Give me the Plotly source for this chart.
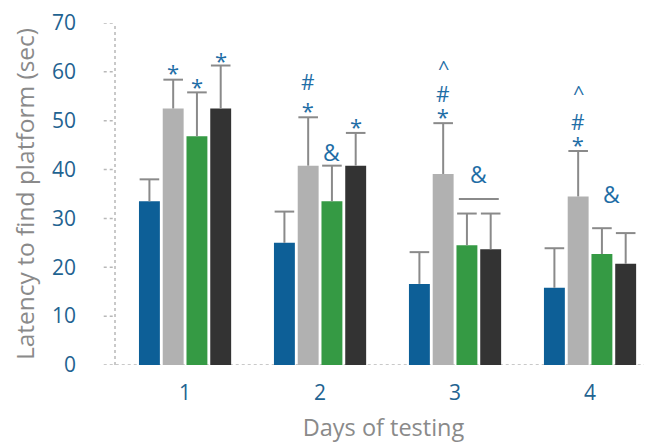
import plotly.graph_objects as go

days = [1, 2, 3, 4]
day_labels = ["1", "2", "3", "4"]
group_names = ["Group A", "Group B", "Group C", "Group D"]
colors = ["#0d5f97", "#b1b1b1", "#359a44", "#333333"]

means = [
    [33.5, 25.0, 16.6, 15.8],   # blue
    [52.5, 40.8, 39.1, 34.5],   # gray
    [46.8, 33.5, 24.5, 22.7],   # green
    [52.5, 40.8, 23.7, 20.7],   # black
]
err_plus = [
    [4.5, 6.4, 6.5, 8.1],
    [5.9, 9.9, 10.4, 9.3],
    [9.0, 7.3, 6.5, 5.3],
    [8.8, 6.7, 7.3, 6.3],
]

y_ticks = [0, 10, 20, 30, 40, 50, 60, 70]

# single significance marks: (day index, bar index, text, y value)
marks = [
    (0, 1, "*", 59.9), (0, 2, "*", 57.2), (0, 3, "*", 62.5),
    (1, 3, "*", 48.9),
    (2, 1, "^", 60.9), (3, 1, "^", 55.8),
]
# stacked "#" over "*" marks: (day index, bar index, y value, line size)
stacked_marks = [(1, 1, 55.0, 22), (2, 1, 53.1, 17.5), (3, 1, 47.4, 17.5)]
amp_marks = [(1, 2.0, 43.6), (2, 2.5, 39.0), (3, 2.4, 35.0)]
bracket = (2, 2, 3, 34.0)

bargap = 0.296
bargroupgap = 0.12
slot = (1 - bargap) / 4

def bar_x(day_idx, bar_idx):
    return days[day_idx] + (bar_idx - 1.5) * slot

err_col = "#8a8a8a"
fig = go.Figure()
for i in range(4):
    fig.add_trace(go.Bar(
        x=days, y=means[i], name=group_names[i],
        marker=dict(color=colors[i], line=dict(width=0)),
        error_y=dict(type="data", symmetric=False, array=err_plus[i],
                     arrayminus=[0] * 4, color=err_col, thickness=2, width=0),
    ))
# caps of the error bars (top only)
for i in range(4):
    fig.add_trace(go.Scatter(
        x=[bar_x(d, i) for d in range(4)],
        y=[m + e for m, e in zip(means[i], err_plus[i])],
        mode="markers", hoverinfo="skip", showlegend=False,
        marker=dict(symbol="line-ew-open", size=14, color=err_col,
                    line=dict(color=err_col, width=2)),
    ))

mark_color = "#1f6ea6"
sizes = {"*": 22, "#": 21, "^": 20}
for d, b, t, yv in marks:
    fig.add_annotation(x=bar_x(d, b), y=yv, text=t, showarrow=False,
                       font=dict(size=sizes[t], color=mark_color, family="Open Sans"),
                       yanchor="middle")
for d, b, yv, fs in stacked_marks:
    txt = ("<span style='font-size:%dpx'>#</span><br><span style='font-size:%dpx'>*</span>"
           % (sizes["#"], sizes["*"]))
    fig.add_annotation(x=bar_x(d, b), y=yv, text=txt, showarrow=False,
                       font=dict(size=fs, color=mark_color, family="Open Sans"),
                       yanchor="middle")
for d, b, yv in amp_marks:
    fig.add_annotation(x=bar_x(d, b), y=yv, text="&", showarrow=False,
                       font=dict(size=23, color=mark_color, family="Open Sans"),
                       yanchor="middle")

d, b0, b1, yv = bracket
fig.add_shape(type="line", x0=bar_x(d, b0) - 0.06, x1=bar_x(d, b1) + 0.06,
              y0=yv, y1=yv, line=dict(color=err_col, width=2))

axis_col = "#b8b8b8"
# dotted y axis line
fig.add_shape(type="line", xref="paper", yref="y", x0=0, x1=0, y0=0, y1=y_ticks[-1],
              line=dict(color=axis_col, width=1.5, dash="dot"), layer="below")
for tv in y_ticks:
    x1 = 1 if tv == 0 else 0
    fig.add_shape(type="line", xref="paper", yref="y", x0=-0.021, x1=x1, y0=tv, y1=tv,
                  line=dict(color=axis_col, width=1.5, dash="dot"), layer="below")

# the page adds an 8px body margin, so the figure is 8px smaller than the window
fig.update_layout(
    width=644, height=437,
    margin=dict(l=107, r=0, t=12, b=80),
    paper_bgcolor="white", plot_bgcolor="white",
    barmode="group", bargap=bargap, bargroupgap=bargroupgap,
    showlegend=False,
    font=dict(family="Open Sans"),
)
fig.update_xaxes(
    range=[0.481, 4.459], tickvals=days, ticktext=day_labels,
    showgrid=False, zeroline=False, showline=False, ticks="",
    tickfont=dict(size=21, color="#1f6391"), ticklabelstandoff=13,
    title=dict(text="Days of testing", font=dict(size=23.5, color="#8a8a8a"), standoff=14),
)
fig.update_yaxes(
    range=[0, 70], tickvals=y_ticks, showgrid=False, zeroline=False, showline=False,
    ticks="", tickfont=dict(size=21, color="#1f6391"), ticklabelstandoff=38,
    ticklabeloverflow="allow",
    title=dict(text="Latency to find platform (sec)", font=dict(size=24.5, color="#8a8a8a"), standoff=16),
)

fig.write_html("out.html")
